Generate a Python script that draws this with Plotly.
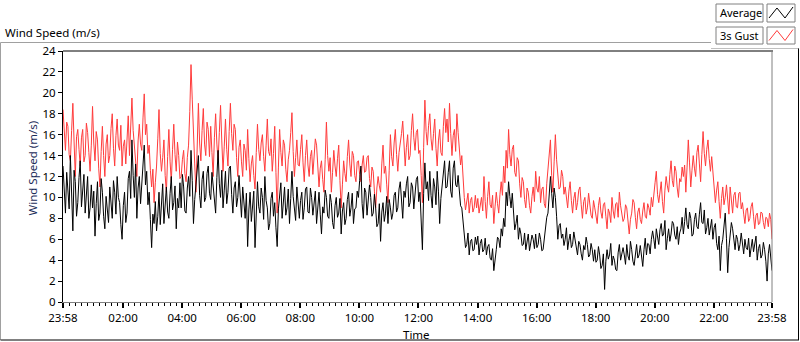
import pandas as pd
import plotly.graph_objects as go

# ---- data (2.5-minute samples starting 23:58, one row per hour) ----
AVERAGE = [
    13.0, 10.2, 8.5, 12.4, 10.5, 8.9, 14.0, 9.8, 6.8, 12.6, 11.5, 8.2, 9.5, 11.9, 13.5, 9.1, 10.5, 12.2, 8.5, 10.8, 12.0, 8.0, 9.0, 11.2,
    9.0, 10.6, 6.3, 9.4, 11.5, 7.8, 8.5, 11.8, 10.5, 8.2, 7.0, 10.1, 9.0, 7.6, 11.0, 9.3, 8.0, 11.6, 10.5, 8.4, 12.0, 10.0, 9.5, 7.4,
    6.0, 9.2, 10.5, 7.6, 8.5, 11.8, 12.5, 9.9, 15.5, 12.1, 10.0, 13.2, 8.0, 10.9, 12.0, 9.4, 11.5, 13.8, 15.0, 11.2, 12.5, 9.3, 10.5, 7.9,
    5.2, 8.4, 7.5, 9.6, 6.8, 8.2, 10.5, 7.4, 9.0, 11.3, 7.5, 9.7, 11.0, 8.6, 8.0, 10.4, 12.0, 8.8, 9.5, 11.1, 7.0, 9.9, 9.0, 11.4,
    9.0, 12.2, 11.0, 8.7, 8.5, 10.9, 12.0, 10.1, 14.5, 11.6, 7.5, 9.8, 11.0, 12.9, 14.0, 10.2, 9.0, 11.7, 12.5, 9.6, 10.0, 12.3, 13.0, 10.4,
    9.8, 12.4, 11.0, 9.2, 8.5, 11.9, 14.5, 11.3, 10.0, 12.6, 9.0, 10.7, 12.5, 9.4, 10.5, 12.8, 13.0, 10.3, 8.5, 10.9, 11.5, 9.1, 10.0, 12.1,
    9.5, 8.1, 11.0, 9.6, 8.0, 10.4, 5.3, 8.8, 10.5, 7.7, 9.0, 10.6, 5.2, 9.3, 11.5, 9.1, 8.5, 10.9, 10.0, 7.9, 12.0, 9.7, 9.0, 6.9,
    7.5, 9.9, 10.5, 8.2, 9.5, 7.1, 5.3, 8.9, 10.0, 11.4, 8.0, 9.6, 11.0, 8.3, 9.0, 10.8, 7.5, 9.9, 12.5, 10.1, 9.0, 7.8, 11.0, 9.2,
    8.0, 9.7, 10.5, 7.9, 9.0, 10.8, 11.0, 8.6, 8.5, 10.9, 10.0, 8.3, 9.5, 10.6, 7.5, 9.2, 10.5, 8.4, 6.5, 9.1, 8.5, 10.7, 10.0, 8.2,
    8.0, 10.3, 9.5, 7.6, 7.0, 9.2, 10.0, 8.1, 8.5, 9.9, 6.5, 8.7, 9.5, 7.4, 8.0, 9.8, 10.5, 8.2, 9.0, 10.4, 7.5, 8.9, 9.0, 10.6,
    10.0, 11.6, 13.0, 9.4, 8.0, 10.9, 10.5, 8.3, 9.5, 11.2, 10.0, 8.2, 8.5, 10.3, 9.0, 7.2, 7.5, 9.4, 5.8, 8.6, 9.5, 7.7, 8.5, 10.1,
    7.5, 9.8, 9.0, 7.9, 8.5, 10.2, 10.5, 8.6, 9.0, 10.8, 11.5, 9.3, 8.0, 10.6, 10.0, 11.3, 12.0, 9.1, 9.5, 11.4, 11.0, 8.9, 10.0, 11.7,
    12.0, 9.6, 10.5, 8.2, 5.0, 10.4, 13.3, 10.8, 11.5, 9.7, 12.5, 10.2, 9.0, 11.8, 11.0, 9.3, 12.5, 10.6, 7.5, 9.9, 11.0, 12.6, 13.5, 10.9,
    11.0, 12.4, 13.5, 10.6, 10.0, 12.8, 13.5, 11.2, 11.0, 12.1, 10.5, 9.2, 9.0, 7.6, 6.5, 5.2, 5.5, 6.6, 4.5, 5.8, 6.0, 4.9, 5.0, 6.2,
    5.5, 6.3, 4.5, 5.6, 6.0, 4.8, 5.0, 6.1, 4.5, 5.3, 5.5, 4.2, 4.0, 5.1, 3.0, 4.4, 5.0, 6.2, 6.0, 5.2, 7.0, 6.3, 8.0, 7.2,
    10.5, 9.2, 11.5, 10.1, 9.0, 10.4, 8.0, 6.9, 7.5, 8.3, 6.0, 7.1, 6.5, 5.4, 5.5, 6.6, 5.0, 5.9, 6.5, 4.9, 5.5, 6.4, 6.0, 5.1,
    6.5, 5.2, 5.5, 6.6, 6.0, 4.9, 5.0, 6.2, 7.0, 8.1, 8.5, 10.2, 12.0, 10.4, 9.0, 10.9, 10.0, 8.2, 6.0, 7.3, 7.5, 6.1, 6.5, 5.4,
    6.0, 7.1, 5.0, 5.9, 6.5, 5.2, 5.5, 6.7, 6.0, 5.1, 4.5, 5.8, 5.5, 4.6, 4.0, 5.4, 5.0, 6.2, 5.5, 4.3, 4.5, 5.6, 5.0, 3.9,
    5.0, 3.8, 4.0, 5.3, 4.5, 3.2, 3.5, 4.6, 1.2, 3.9, 5.0, 4.1, 4.5, 5.6, 3.5, 4.4, 4.0, 3.1, 3.0, 4.7, 5.5, 4.0, 4.5, 5.2,
    4.5, 3.6, 5.5, 4.4, 4.0, 5.8, 5.0, 3.9, 3.5, 4.8, 5.5, 4.2, 4.5, 5.4, 4.0, 3.4, 5.0, 6.1, 4.5, 5.6, 5.5, 4.6, 6.0, 6.8,
    6.0, 5.1, 7.0, 6.2, 5.5, 6.9, 7.5, 6.3, 6.5, 7.8, 5.0, 6.1, 7.0, 5.8, 6.5, 7.7, 7.5, 6.4, 6.0, 7.2, 5.5, 6.6, 7.0, 8.1,
    6.5, 7.7, 9.0, 7.4, 7.0, 8.6, 8.0, 6.3, 6.5, 7.9, 8.5, 7.2, 7.0, 8.4, 9.5, 7.6, 7.5, 8.8, 6.5, 7.1, 8.0, 6.4, 7.0, 7.9,
    6.0, 7.1, 7.5, 5.6, 5.0, 6.3, 3.0, 5.4, 6.0, 7.3, 8.5, 6.1, 2.8, 5.2, 6.5, 7.6, 7.0, 5.8, 5.0, 6.4, 6.0, 4.9, 5.5, 6.6,
    5.5, 4.6, 6.0, 5.2, 5.0, 6.1, 4.3, 5.4, 6.0, 4.8, 5.5, 6.3, 4.0, 5.1, 5.5, 4.2, 4.5, 5.7, 5.0, 3.9, 2.0, 4.6, 5.5, 4.4, 3.0,
]

GUST_3S = [
    18.4, 15.9, 14.5, 17.2, 16.8, 14.1, 13.5, 16.4, 19.0, 15.3, 12.0, 15.8, 16.5, 14.6, 13.0, 15.7, 16.5, 13.4, 14.0, 17.1, 16.2, 14.3, 12.5, 15.0,
    18.7, 15.2, 13.5, 16.3, 15.5, 12.8, 11.0, 14.4, 16.8, 14.0, 12.0, 15.1, 16.0, 13.3, 14.0, 16.6, 18.0, 14.7, 13.0, 15.9, 17.5, 15.0, 14.5, 16.9,
    13.0, 14.9, 15.5, 13.2, 16.5, 17.8, 14.0, 16.2, 19.5, 16.4, 15.0, 13.6, 12.0, 15.4, 17.0, 15.1, 14.5, 17.6, 19.9, 16.0, 17.0, 14.2, 15.0, 12.6,
    11.0, 12.7, 9.5, 11.4, 13.0, 15.6, 18.4, 14.2, 12.5, 13.8, 15.5, 12.1, 10.5, 13.9, 16.5, 13.4, 11.5, 14.6, 17.0, 14.1, 12.5, 15.3, 14.0, 11.8,
    12.0, 13.6, 14.5, 12.3, 11.5, 13.8, 15.0, 18.2, 22.7, 19.4, 17.0, 13.2, 10.5, 15.6, 19.0, 15.2, 13.5, 16.4, 18.5, 15.1, 14.0, 17.2, 16.5, 13.9,
    16.8, 14.3, 12.0, 15.7, 18.0, 15.1, 13.5, 16.2, 18.8, 15.4, 12.5, 14.9, 17.5, 14.6, 13.0, 16.3, 19.0, 16.1, 14.5, 17.0, 16.5, 13.8, 12.0, 14.8,
    15.5, 13.4, 12.0, 15.1, 14.5, 12.6, 16.5, 13.7, 11.5, 13.2, 14.0, 12.1, 10.8, 14.3, 17.0, 14.6, 13.5, 15.2, 16.0, 13.9, 12.5, 15.0, 17.5, 14.4,
    14.0, 15.6, 12.5, 14.2, 16.8, 12.4, 8.5, 12.9, 16.5, 14.3, 13.0, 15.5, 15.0, 12.7, 11.5, 13.6, 14.5, 16.2, 18.1, 14.4, 12.0, 13.8, 15.5, 13.1,
    13.0, 14.6, 16.0, 13.3, 11.5, 14.0, 15.5, 13.1, 12.0, 13.9, 14.5, 12.2, 13.5, 15.6, 15.0, 12.5, 11.0, 12.8, 13.5, 11.7, 10.5, 13.6, 17.2, 14.0,
    12.5, 13.8, 10.5, 12.4, 14.5, 13.0, 12.0, 13.7, 15.0, 11.6, 9.0, 11.2, 13.5, 12.3, 11.5, 13.9, 15.5, 13.2, 12.0, 14.4, 14.0, 12.1, 11.5, 13.4,
    13.5, 12.2, 11.5, 13.1, 14.0, 12.4, 12.5, 13.8, 14.0, 11.8, 11.0, 12.9, 12.5, 10.6, 9.0, 10.9, 12.0, 11.1, 10.5, 13.2, 15.0, 12.3, 13.0, 11.2,
    9.5, 12.6, 16.0, 13.9, 13.0, 15.2, 16.5, 14.1, 12.5, 14.3, 15.0, 16.1, 17.3, 14.6, 13.0, 14.8, 16.0, 13.6, 14.0, 16.4, 18.0, 15.7, 14.5, 16.2,
    16.5, 14.2, 14.5, 12.1, 9.5, 14.8, 19.3, 16.3, 15.0, 16.9, 18.0, 15.6, 14.5, 16.1, 17.5, 14.7, 13.0, 15.4, 16.5, 14.3, 14.0, 16.8, 18.5, 16.2,
    17.5, 15.3, 19.0, 16.1, 14.0, 15.9, 16.5, 14.4, 18.0, 16.2, 15.0, 13.1, 14.0, 11.6, 10.0, 8.8, 9.5, 10.4, 8.5, 9.7, 10.0, 8.6, 9.0, 10.2,
    9.0, 9.9, 8.5, 9.4, 10.0, 8.7, 12.0, 9.6, 8.0, 10.1, 11.5, 9.3, 9.0, 10.2, 7.5, 9.1, 10.5, 9.4, 8.5, 10.3, 11.5, 10.2, 13.0, 11.4,
    14.5, 12.8, 16.5, 14.1, 13.0, 14.6, 15.0, 12.4, 12.0, 13.8, 13.5, 11.3, 10.0, 11.9, 11.5, 9.8, 9.0, 10.9, 10.5, 9.2, 8.5, 10.1, 11.0, 9.6,
    12.5, 10.9, 10.5, 12.0, 9.5, 10.8, 11.0, 9.4, 9.0, 11.3, 13.0, 14.2, 15.5, 12.1, 10.5, 13.4, 16.0, 13.6, 12.5, 10.8, 11.0, 12.6, 12.0, 10.3,
    11.0, 9.8, 9.0, 10.6, 11.5, 9.7, 8.5, 9.9, 10.5, 8.8, 9.5, 10.7, 11.0, 9.3, 8.0, 9.6, 10.0, 8.4, 9.0, 10.4, 9.5, 8.3, 8.0, 9.7,
    9.0, 8.1, 7.5, 9.2, 10.0, 8.6, 8.0, 9.3, 9.5, 8.2, 7.0, 8.9, 8.5, 7.6, 10.0, 8.7, 8.0, 9.4, 9.5, 8.1, 10.5, 9.2, 8.5, 7.7,
    8.0, 9.3, 9.0, 7.6, 6.5, 7.9, 8.5, 9.8, 9.5, 8.1, 7.0, 8.6, 9.0, 7.9, 7.5, 8.7, 9.5, 8.2, 8.0, 9.4, 9.0, 8.3, 10.0, 9.1,
    10.0, 11.4, 12.5, 10.3, 9.5, 10.8, 11.5, 9.6, 8.5, 10.7, 12.0, 11.1, 10.5, 12.2, 13.5, 11.6, 11.0, 13.0, 12.5, 10.9, 10.0, 11.8, 11.5, 12.9,
    12.0, 13.1, 10.5, 12.9, 15.5, 13.3, 11.0, 12.6, 14.0, 12.8, 12.0, 14.3, 15.0, 13.2, 11.5, 14.1, 16.3, 14.2, 13.0, 14.6, 15.5, 13.7, 12.5, 13.9,
    12.5, 10.8, 9.5, 10.7, 11.5, 9.6, 8.0, 9.9, 11.0, 9.3, 10.0, 11.2, 9.5, 8.4, 11.0, 9.8, 8.5, 10.2, 10.5, 9.1, 9.0, 10.4, 10.5, 8.9,
    9.5, 8.4, 7.5, 8.8, 9.0, 7.7, 8.0, 9.1, 9.5, 8.2, 7.0, 8.3, 8.5, 7.4, 7.5, 8.6, 8.5, 7.6, 7.0, 8.1, 8.0, 7.2, 8.5, 7.9, 6.0,
]

START = "2024-01-01 23:58"
TICK_TIMES = ["2024-01-01 23:58", "2024-01-02 02:00", "2024-01-02 04:00",
              "2024-01-02 06:00", "2024-01-02 08:00", "2024-01-02 10:00",
              "2024-01-02 12:00", "2024-01-02 14:00", "2024-01-02 16:00",
              "2024-01-02 18:00", "2024-01-02 20:00", "2024-01-02 22:00",
              "2024-01-02 23:58"]
TICK_LABELS = ["23:58", "02:00", "04:00", "06:00", "08:00", "10:00", "12:00",
               "14:00", "16:00", "18:00", "20:00", "22:00", "23:58"]
SERIES_NAMES = ["Average", "3s Gust"]

times = pd.date_range(START, periods=len(AVERAGE), freq="150s")

FONT = "Noto Sans"
FS = 11.5
W, H = 800, 342
L, R, T, B = 63, 772, 51, 302  # plot area in pixels


def px(x):
    return (x - L) / (R - L)


def py(y):
    return (B - y) / (B - T)


fig = go.Figure()
fig.add_trace(go.Scatter(x=times[:len(GUST_3S)], y=GUST_3S, mode="lines", name=SERIES_NAMES[1],
                         line=dict(color="#ff3b3b", width=1)))
fig.add_trace(go.Scatter(x=times, y=AVERAGE, mode="lines", name=SERIES_NAMES[0],
                         line=dict(color="#000000", width=1)))

fig.update_layout(
    width=W, height=H,
    margin=dict(l=L, r=W - R, t=T, b=H - B, pad=0),
    paper_bgcolor="white", plot_bgcolor="white",
    showlegend=False,
    font=dict(family=FONT, size=FS, color="#000000"),
    xaxis=dict(
        range=[TICK_TIMES[0], TICK_TIMES[-1]],
        tickmode="array", tickvals=TICK_TIMES, ticktext=TICK_LABELS,
        ticks="outside", ticklen=5, tickwidth=2, tickcolor="#000000",
        showgrid=False, zeroline=False,
        showline=True, linecolor="#808080", linewidth=1,
        tickfont=dict(family=FONT, size=FS, color="#000000"),
        minor=dict(ticks="outside", ticklen=3, tickwidth=1, tickcolor="#000000",
                   dtick=12 * 60 * 1000, tick0="2024-01-02 00:00", showgrid=False),
    ),
    yaxis=dict(
        range=[0, 24], dtick=2, tick0=0,
        ticks="outside", ticklen=4, tickwidth=1, tickcolor="#000000",
        showgrid=False, zeroline=False,
        showline=True, linecolor="#000000", linewidth=1,
        tickfont=dict(family=FONT, size=FS, color="#000000"),
    ),
)

shapes = []
# plot frame: top black, right gray
shapes.append(dict(type="line", xref="paper", yref="paper",
                   x0=0, x1=px(773), y0=1, y1=1, line=dict(color="#000000", width=1)))
shapes.append(dict(type="line", xref="paper", yref="paper",
                   x0=1, x1=1, y0=0, y1=1, line=dict(color="#808080", width=1)))
# outer panel frame
shapes.append(dict(type="line", xref="paper", yref="paper",
                   x0=px(0.5), x1=px(711), y0=py(42.5), y1=py(42.5),
                   line=dict(color="#a0a0a0", width=1)))
shapes.append(dict(type="line", xref="paper", yref="paper",
                   x0=px(0.5), x1=px(0.5), y0=py(42.5), y1=py(340),
                   line=dict(color="#a0a0a0", width=1)))
shapes.append(dict(type="line", xref="paper", yref="paper",
                   x0=px(711), x1=px(799), y0=py(48.5), y1=py(48.5),
                   line=dict(color="#c0c0c0", width=1)))
shapes.append(dict(type="line", xref="paper", yref="paper",
                   x0=px(798.5), x1=px(798.5), y0=py(48.5), y1=py(340),
                   line=dict(color="#000000", width=1)))
shapes.append(dict(type="line", xref="paper", yref="paper",
                   x0=px(0.5), x1=px(799), y0=py(340), y1=py(340),
                   line=dict(color="#000000", width=1)))

# custom legend boxes
legend_rows = [(4, 22, "#000000"), (27, 44, "#ff3b3b")]
for (y0, y1, col), name in zip(legend_rows, SERIES_NAMES):
    shapes.append(dict(type="rect", xref="paper", yref="paper",
                       x0=px(716), x1=px(763), y0=py(y1), y1=py(y0),
                       line=dict(color="#808080", width=1), fillcolor="white"))
    shapes.append(dict(type="rect", xref="paper", yref="paper",
                       x0=px(767), x1=px(795), y0=py(y1), y1=py(y0),
                       line=dict(color="#808080", width=1), fillcolor="white"))
    ym = (y0 + y1) / 2
    pts = [(769, ym + 5), (777, ym - 5), (785, ym + 5), (793, ym - 6)]
    path = "M " + " L ".join(f"{px(a):.5f},{py(b):.5f}" for a, b in pts)
    shapes.append(dict(type="path", xref="paper", yref="paper", path=path,
                       line=dict(color=col, width=1)))
    fig.add_annotation(x=px(718), y=py(ym), xref="paper", yref="paper",
                       text=name, showarrow=False, xanchor="left", yanchor="middle",
                       font=dict(family=FONT, size=11, color="#000000"))

fig.update_layout(shapes=shapes)

fig.add_annotation(x=px(3), y=py(32), xref="paper", yref="paper",
                   text="Wind Speed (m/s)", showarrow=False,
                   xanchor="left", yanchor="middle",
                   font=dict(family=FONT, size=FS, color="#000000"))
fig.add_annotation(x=px(31.5), y=py(168), xref="paper", yref="paper",
                   text="Wind Speed (m/s)", showarrow=False, textangle=-90,
                   xanchor="center", yanchor="middle",
                   font=dict(family=FONT, size=FS, color="#1c2d5a"))
fig.add_annotation(x=px(416), y=py(334), xref="paper", yref="paper",
                   text="Time", showarrow=False,
                   xanchor="center", yanchor="middle",
                   font=dict(family=FONT, size=FS, color="#000000"))

fig.write_html("out.html", config={"displayModeBar": False},
               post_script="document.body.style.margin='0';")
